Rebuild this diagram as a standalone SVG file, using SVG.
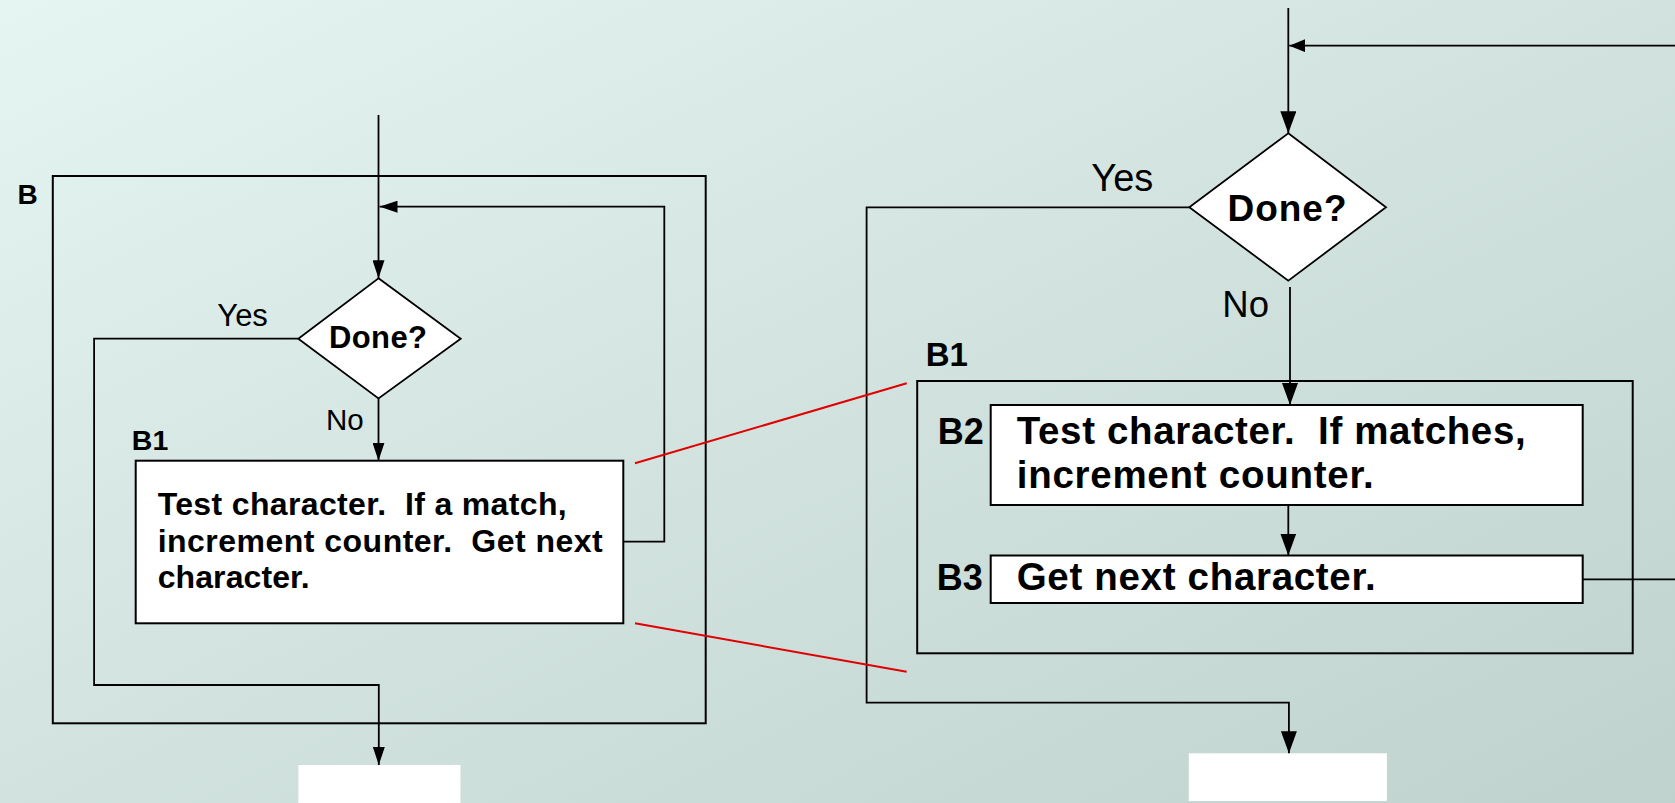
<svg xmlns="http://www.w3.org/2000/svg" width="1675" height="803" viewBox="0 0 1675 803">
  <defs>
    <linearGradient id="bg" x1="0" y1="0" x2="1" y2="1">
      <stop offset="0" stop-color="#e4f5f2"/>
      <stop offset="0.5" stop-color="#d2e3df"/>
      <stop offset="1" stop-color="#bfd2ce"/>
    </linearGradient>
    <marker id="arrS" viewBox="0 0 18 12" refX="18" refY="6" markerWidth="18" markerHeight="12" markerUnits="userSpaceOnUse" orient="auto">
      <path d="M0,0 L18,6 L0,12 z" fill="#000"/>
    </marker>
    <marker id="arrL" viewBox="0 0 22 16" refX="22" refY="8" markerWidth="22" markerHeight="16" markerUnits="userSpaceOnUse" orient="auto">
      <path d="M0,0 L22,8 L0,16 z" fill="#000"/>
    </marker>
    <marker id="arrM" viewBox="0 0 16 13" refX="16" refY="6.5" markerWidth="16" markerHeight="13" markerUnits="userSpaceOnUse" orient="auto">
      <path d="M0,0 L16,6.5 L0,13 z" fill="#000"/>
    </marker>
  </defs>
  <style>
    .frame { fill: none; stroke: #000; stroke-width: 2; }
    .box { fill: #fff; stroke: #000; stroke-width: 2; }
    .dec { fill: #fff; stroke: #000; stroke-width: 1.8; }
    .wire { fill: none; stroke: #000; stroke-width: 1.8; }
    .zoom { fill: none; stroke: #e00000; stroke-width: 2; }
    .blank { fill: #fff; stroke: none; }
    .lbl { font-family: "Liberation Sans", Arial, sans-serif; font-weight: bold; fill: #000; }
    .txt { font-family: "Liberation Sans", Arial, sans-serif; font-weight: bold; fill: #000; }
    .ans { font-family: "Liberation Sans", Arial, sans-serif; fill: #000; }
  </style>

  <rect x="0" y="0" width="1675" height="803" fill="url(#bg)"/>

  <!-- left: the whole loop collapsed into block B -->
  <g id="blockB">
    <rect class="frame" x="52.8" y="176" width="652.9" height="547.3"/>
    <text class="lbl" x="17.4" y="204.3" font-size="28">B</text>
  </g>

  <g id="doneLeft">
    <polygon class="dec" points="378.5,278.3 460.7,338.7 378.5,398.5 298.3,338.7"/>
    <text class="txt" x="378" y="348.3" font-size="31" text-anchor="middle" textLength="98" lengthAdjust="spacing">Done?</text>
  </g>

  <g id="blockB1Left">
    <rect class="box" x="135.7" y="460.7" width="487.6" height="162.6"/>
    <text class="lbl" x="131.8" y="450" font-size="28.5">B1</text>
    <text class="txt" x="157.7" y="515" font-size="32" textLength="409" lengthAdjust="spacing">Test character.&#160; If a match,</text>
    <text class="txt" x="157.7" y="551.5" font-size="32" textLength="445" lengthAdjust="spacing">increment counter.&#160; Get next</text>
    <text class="txt" x="157.7" y="588.3" font-size="32" textLength="152" lengthAdjust="spacing">character.</text>
  </g>

  <rect id="exitLeft" class="blank" x="298.4" y="765" width="162.1" height="38"/>

  <!-- right: B1 expanded into B2 and B3 -->
  <g id="doneRight">
    <polygon class="dec" points="1288.3,133.3 1386,207.3 1288.3,280.7 1189.3,207.3"/>
    <text class="txt" x="1287" y="220.7" font-size="37" text-anchor="middle" textLength="119" lengthAdjust="spacing">Done?</text>
  </g>

  <g id="blockB1Right">
    <rect class="frame" x="917.2" y="381" width="715.5" height="272.3"/>
    <text class="lbl" x="925.7" y="365.5" font-size="33">B1</text>
  </g>

  <g id="blockB2">
    <rect class="box" x="990.7" y="405" width="592" height="100"/>
    <text class="lbl" x="937.7" y="444" font-size="36">B2</text>
    <text class="txt" x="1016.7" y="444" font-size="38.5" textLength="509" lengthAdjust="spacing">Test character.&#160; If matches,</text>
    <text class="txt" x="1016.7" y="488.3" font-size="38.5" textLength="357" lengthAdjust="spacing">increment counter.</text>
  </g>

  <g id="blockB3">
    <rect class="box" x="990.7" y="555.5" width="592" height="47.5"/>
    <text class="lbl" x="936.7" y="590" font-size="36">B3</text>
    <text class="txt" x="1016.7" y="590" font-size="38.5" textLength="359" lengthAdjust="spacing">Get next character.</text>
  </g>

  <rect id="exitRight" class="blank" x="1188.8" y="753.3" width="198.1" height="47.7"/>

  <g id="connectors">
    <!-- left flow -->
    <path class="wire" d="M378.5,115 V278.3" marker-end="url(#arrS)"/>
    <path class="wire" d="M378.5,398.5 V460.7" marker-end="url(#arrS)"/>
    <path class="wire" d="M623.3,541.7 H664.3 V206.7 H379.5" marker-end="url(#arrS)"/>
    <path class="wire" d="M298.3,338.7 H94.1 V685 H378.8 V765" marker-end="url(#arrS)"/>
    <text class="ans" x="217.3" y="325.7" font-size="31">Yes</text>
    <text class="ans" x="326" y="430" font-size="29.5">No</text>

    <!-- right flow -->
    <path class="wire" d="M1288.3,8 V133.3" marker-end="url(#arrL)"/>
    <path class="wire" d="M1582.7,579.3 H1685 V45.7 H1289.3" marker-end="url(#arrM)"/>
    <path class="wire" d="M1290,287 V405" marker-end="url(#arrL)"/>
    <path class="wire" d="M1288.3,505 V555.5" marker-end="url(#arrL)"/>
    <path class="wire" d="M1189.3,207.3 H866.6 V702.7 H1288.9 V753.3" marker-end="url(#arrL)"/>
    <text class="ans" x="1091.3" y="191" font-size="38">Yes</text>
    <text class="ans" x="1222.3" y="316.7" font-size="36.5">No</text>

    <!-- zoom guides from B1 to its expansion -->
    <path class="zoom" d="M635,463.3 L906.7,383.3"/>
    <path class="zoom" d="M635,623.3 L906.7,671.7"/>
  </g>
</svg>
